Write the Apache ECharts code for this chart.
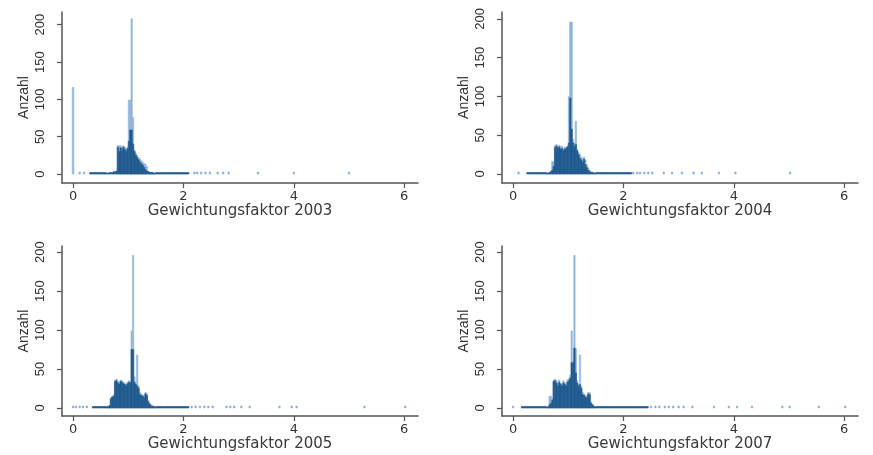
<!DOCTYPE html>
<html>
<head>
<meta charset="utf-8">
<script src="https://cdn.jsdelivr.net/npm/echarts@6/dist/echarts.min.js"></script>
<style>
html,body{margin:0;padding:0;background:#fff;}
#c{width:873px;height:455px;}
</style>
</head>
<body>
<div id="c"></div>
<script>
// ---- data ----
const years = ['2003', '2004', '2005', '2007'];
const xTicks = [0, 2, 4, 6];
const yTicks = [0, 50, 100, 150, 200];

// core histogram bins (left edges), width 0.025
const binStart = [0.600,0.625,0.650,0.675,0.700,0.725,0.750,0.775,0.800,0.825,0.850,0.875,
  0.900,0.925,0.950,0.975,1.000,1.025,1.050,1.075,1.100,1.125,1.150,1.175,
  1.200,1.225,1.250,1.275,1.300,1.325,1.350,1.375,1.400,1.425,1.450,1.475];
const binWidth = 0.025;

const light2003 = [0,0,0,0,0,0,0,0,38,38,38,36,38,36,33,36,99,99,208,76,32,28,25,22,20,18,16,14,13,10,4,3,2,2,1,1];
const dark2003  = [1,1,2,2,2,3,3,4,36,30,35,31,36,33,30,34,44,59,59,40,30,25,22,19,16,14,12,9,6,4,3,2,2,2,1,1];

const light2004 = [1,1,2,3,16,16,37,38,36,37,35,36,33,35,34,36,100,196,196,45,40,68,32,28,25,22,20,22,18,12,8,5,3,2,2,1];
const dark2004  = [1,1,2,3,5,10,34,36,33,35,32,33,30,32,33,35,40,98,58,40,35,38,30,25,20,18,15,19,12,8,5,3,2,2,1,1];

const light2005 = [2,2,3,13,15,17,36,37,34,33,36,35,33,32,30,33,35,34,99,196,40,33,68,28,20,18,17,15,20,19,10,6,4,3,2,1];
const dark2005  = [1,2,3,12,14,15,34,35,32,30,34,33,31,30,28,31,33,32,75,75,33,30,28,25,17,16,15,13,18,16,8,5,3,2,2,1];

const light2007 = [1,2,15,15,12,36,37,35,30,36,32,30,35,33,30,36,38,42,99,60,196,76,35,30,68,28,20,18,16,15,20,20,8,5,3,2];
const dark2007  = [1,1,4,6,10,34,35,32,28,33,30,28,32,30,28,33,35,38,58,58,77,45,32,28,30,25,17,16,14,13,18,17,6,4,2,1];

// low-count runs (left edges, width 0.05)
const lowX2003 = [0.30,0.35,0.40,0.45,0.50,0.55,1.50,1.55,1.60,1.65,1.70,1.75,1.80,1.85,1.90,1.95,2.00,2.05];
const lowN2003 = [1,1,1,1,1,2,2,2,1,1,1,1,1,1,1,1,1,1];
const lowX2004 = [0.25,0.30,0.35,0.40,0.45,0.50,0.55,1.50,1.55,1.60,1.65,1.70,1.75,1.80,1.85,1.90,1.95,2.00,2.05,2.10];
const lowN2004 = [1,1,1,1,1,1,2,2,2,1,1,1,1,1,1,1,1,1,1,1];
const lowX2005 = [0.35,0.40,0.45,0.50,0.55,1.50,1.55,1.60,1.65,1.70,1.75,1.80,1.85,1.90,1.95,2.00,2.05];
const lowN2005 = [1,1,1,1,2,2,2,1,1,2,1,1,1,1,1,1,1];
const lowX2007 = [0.15,0.20,0.25,0.30,0.35,0.40,0.45,0.50,0.55,1.50,1.55,1.60,1.65,1.70,1.75,1.80,1.85,1.90,1.95,2.00,2.05,2.10,2.15,2.20,2.25,2.30,2.35,2.40];
const lowN2007 = [1,1,1,1,1,1,1,1,2,2,2,2,1,1,1,1,1,1,1,1,1,1,1,1,1,1,1,1];

// isolated observations
const dotX2003 = [0.12,0.20,2.20,2.25,2.32,2.40,2.48,2.62,2.72,2.82,3.35,4.00,5.00];
const dotN2003 = [1,1,1,1,1,1,1,1,1,1,1,1,2];
const dotX2004 = [0.10,2.18,2.25,2.30,2.38,2.45,2.52,2.73,2.88,3.06,3.27,3.42,3.73,4.03,5.02];
const dotN2004 = [1,1,1,1,1,1,1,1,1,1,1,1,1,1,1];
const dotX2005 = [0.00,0.05,0.12,0.18,0.25,2.15,2.22,2.30,2.38,2.45,2.53,2.78,2.85,2.92,3.05,3.20,3.74,3.96,4.05,5.28,6.02];
const dotN2005 = [1,1,1,1,1,1,1,1,1,1,1,1,1,1,1,1,1,1,1,1,1];
const dotX2007 = [0.00,2.50,2.58,2.65,2.75,2.82,2.90,3.00,3.09,3.25,3.64,3.91,4.06,4.33,4.88,5.01,5.54,6.02];
const dotN2007 = [1,1,1,1,1,1,1,1,1,1,1,1,1,1,1,1,1,1];

// single spikes outside core
const spikeX2003 = [0.0];
const spikeN2003 = [116];

// ---- chart ----
const DARK = '#215b8f';
const LIGHT = '#93b6dc';
const FONT = '"Liberation Sans", Arial, sans-serif';
const WIDEFONT = '"DejaVu Sans", Verdana, sans-serif';

const panels = {
  '2003': {light: light2003, dark: dark2003, lowX: lowX2003, lowN: lowN2003, dotX: dotX2003, dotN: dotN2003, spX: spikeX2003, spN: spikeN2003},
  '2004': {light: light2004, dark: dark2004, lowX: lowX2004, lowN: lowN2004, dotX: dotX2004, dotN: dotN2004, spX: [], spN: []},
  '2005': {light: light2005, dark: dark2005, lowX: lowX2005, lowN: lowN2005, dotX: dotX2005, dotN: dotN2005, spX: [], spN: []},
  '2007': {light: light2007, dark: dark2007, lowX: lowX2007, lowN: lowN2007, dotX: dotX2007, dotN: dotN2007, spX: [], spN: []}
};

const grids = [
  {left: 62, right: 455, top: 12, bottom: 272},
  {left: 502, right: 15, top: 12, bottom: 272},
  {left: 62, right: 455, top: 246, bottom: 39},
  {left: 502, right: 15, top: 246, bottom: 39}
];
const yRanges = [[-12, 217], [-11.6, 209], [-10.3, 208], [-10.3, 208]];

function rectRender(color, minH) {
  return function (params, api) {
    const x0 = api.value(0), x1 = api.value(1), n = api.value(2);
    const p0 = api.coord([x0, n]);
    const p1 = api.coord([x1, 0]);
    const w = Math.max(p1[0] - p0[0], 1.2);
    const h = Math.max(p1[1] - p0[1], minH);
    return {type: 'rect', shape: {x: p0[0], y: p1[1] - h, width: w, height: h},
      style: {fill: color, stroke: color, lineWidth: 0.6}};
  };
}

const xAxes = [], yAxes = [], series = [];
years.forEach((yr, i) => {
  const p = panels[yr];
  xAxes.push({
    type: 'value', gridIndex: i, min: -0.2, max: 6.25,
    name: 'Gewichtungsfaktor ' + yr, nameLocation: 'middle', nameGap: 20,
    nameTextStyle: {fontSize: 15, color: '#3a3a3a', fontFamily: WIDEFONT},
    axisLine: {show: true, onZero: false, lineStyle: {color: '#555', width: 1.5}},
    axisTick: {show: true, length: 5, customValues: xTicks, lineStyle: {color: '#555', width: 1.2}},
    axisLabel: {customValues: xTicks, fontSize: 13, color: '#333', margin: 7, fontFamily: WIDEFONT},
    splitLine: {show: false}
  });
  yAxes.push({
    type: 'value', gridIndex: i, min: yRanges[i][0], max: yRanges[i][1],
    name: 'Anzahl', nameLocation: 'middle', nameGap: 31, nameRotate: 90,
    nameTextStyle: {fontSize: 14, color: '#333', fontFamily: FONT},
    axisLine: {show: true, onZero: false, lineStyle: {color: '#555', width: 1.5}},
    axisTick: {show: true, length: 5, customValues: yTicks, lineStyle: {color: '#555', width: 1.2}},
    axisLabel: {customValues: yTicks, rotate: 90, fontSize: 13, color: '#333', margin: 15, fontFamily: FONT},
    splitLine: {show: false}
  });
  const lightData = [], darkData = [], lowData = [], dotData = [], spData = [];
  binStart.forEach((b, k) => {
    if (p.light[k] > 0) lightData.push([b, b + binWidth, p.light[k]]);
    if (p.dark[k] > 0) darkData.push([b, b + binWidth, p.dark[k]]);
  });
  p.lowX.forEach((x, k) => lowData.push([x, x + 0.05, p.lowN[k]]));
  p.dotX.forEach((x, k) => dotData.push([x - 0.012, x + 0.012, p.dotN[k]]));
  p.spX.forEach((x, k) => spData.push([x - 0.015, x + 0.015, p.spN[k]]));
  const common = {type: 'custom', xAxisIndex: i, yAxisIndex: i, silent: true, animation: false, clip: true, encode: {x: [0, 1], y: 2}};
  series.push(Object.assign({}, common, {renderItem: rectRender(LIGHT, 1), data: lightData}));
  series.push(Object.assign({}, common, {renderItem: rectRender(LIGHT, 1), data: spData}));
  series.push(Object.assign({}, common, {renderItem: rectRender('#86abd6', 2), data: dotData}));
  series.push(Object.assign({}, common, {renderItem: rectRender(DARK, 1.5), data: lowData}));
  series.push(Object.assign({}, common, {renderItem: rectRender(DARK, 1), data: darkData}));
});

const chart = echarts.init(document.getElementById('c'), null, {renderer: 'canvas'});
chart.setOption({
  backgroundColor: '#ffffff',
  animation: false,
  textStyle: {fontFamily: FONT},
  grid: grids,
  xAxis: xAxes,
  yAxis: yAxes,
  series: series
});
</script>
</body>
</html>
